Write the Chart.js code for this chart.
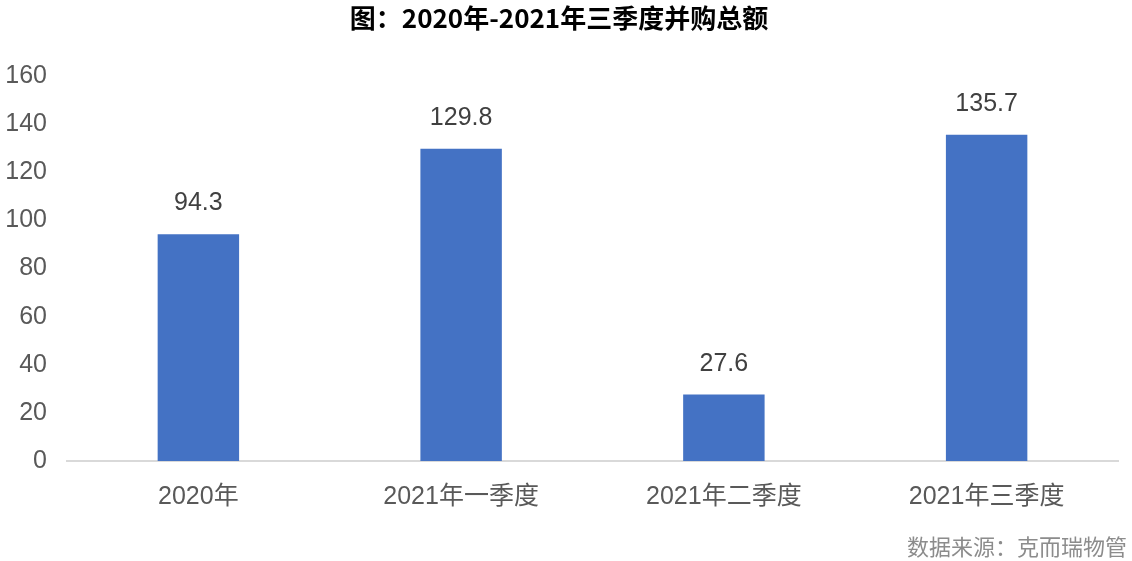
<!DOCTYPE html>
<html>
<head>
<meta charset="utf-8">
<script src="https://cdn.jsdelivr.net/npm/chart.js@4"></script>
<style>
  html, body { margin: 0; padding: 0; background: #fff; }
  #wrap { width: 1132px; height: 561px; }
</style>
</head>
<body>
<div id="wrap"><canvas id="myChart"></canvas></div>
<script>
const categories = ['2020年', '2021年一季度', '2021年二季度', '2021年三季度'];
const totals = [94.3, 129.8, 27.6, 135.7];
const yTicks = [0, 20, 40, 60, 80, 100, 120, 140, 160];

const FONT = '"Liberation Sans", "Noto Sans CJK SC", sans-serif';

// labels above bars + source note
const labelPlugin = {
  id: 'labels',
  afterDatasetsDraw(chart) {
    const ctx = chart.ctx;
    const meta = chart.getDatasetMeta(0);
    ctx.save();
    ctx.font = '25px ' + FONT;
    ctx.fillStyle = '#404040';
    ctx.textAlign = 'center';
    ctx.textBaseline = 'middle';
    meta.data.forEach((bar, i) => {
      ctx.fillText(totals[i].toFixed(1), bar.x, bar.y - 31);
    });
    ctx.font = '22px "Noto Sans CJK SC", sans-serif';
    ctx.fillStyle = '#8c8c8c';
    ctx.textAlign = 'right';
    ctx.fillText('数据来源：克而瑞物管', 1127, 547);
    ctx.restore();
  }
};

const config = {
  type: 'bar',
  data: {
    labels: categories,
    datasets: [{
      data: totals,
      backgroundColor: '#4472C4',
      categoryPercentage: 1,
      barPercentage: 0.31
    }]
  },
  options: {
    responsive: true,
    maintainAspectRatio: false,
    animation: false,
    layout: { padding: { left: 0, right: 14, bottom: 36 } },
    plugins: {
      legend: { display: false },
      tooltip: { enabled: false },
      title: {
        display: true,
        text: '图：2020年-2021年三季度并购总额',
        color: '#000',
        font: { family: '"Noto Sans CJK SC", sans-serif', size: 26, weight: 'bold', lineHeight: 1.2 },
        padding: { top: 3, bottom: 42 }
      }
    },
    scales: {
      x: {
        grid: { display: false },
        border: { display: true, color: '#d9d9d9', width: 2 },
        ticks: { color: '#595959', font: { family: FONT, size: 25 }, padding: 13 }
      },
      y: {
        min: 0,
        max: 160,
        afterBuildTicks(scale) { scale.ticks = yTicks.map(v => ({ value: v })); },
        afterFit(scale) { scale.width = 67; },
        grid: { display: false },
        border: { display: false },
        ticks: { color: '#595959', font: { family: FONT, size: 25 }, padding: 12 }
      }
    }
  },
  plugins: [labelPlugin]
};

var myChart = new Chart(document.getElementById('myChart'), config);
</script>
</body>
</html>
